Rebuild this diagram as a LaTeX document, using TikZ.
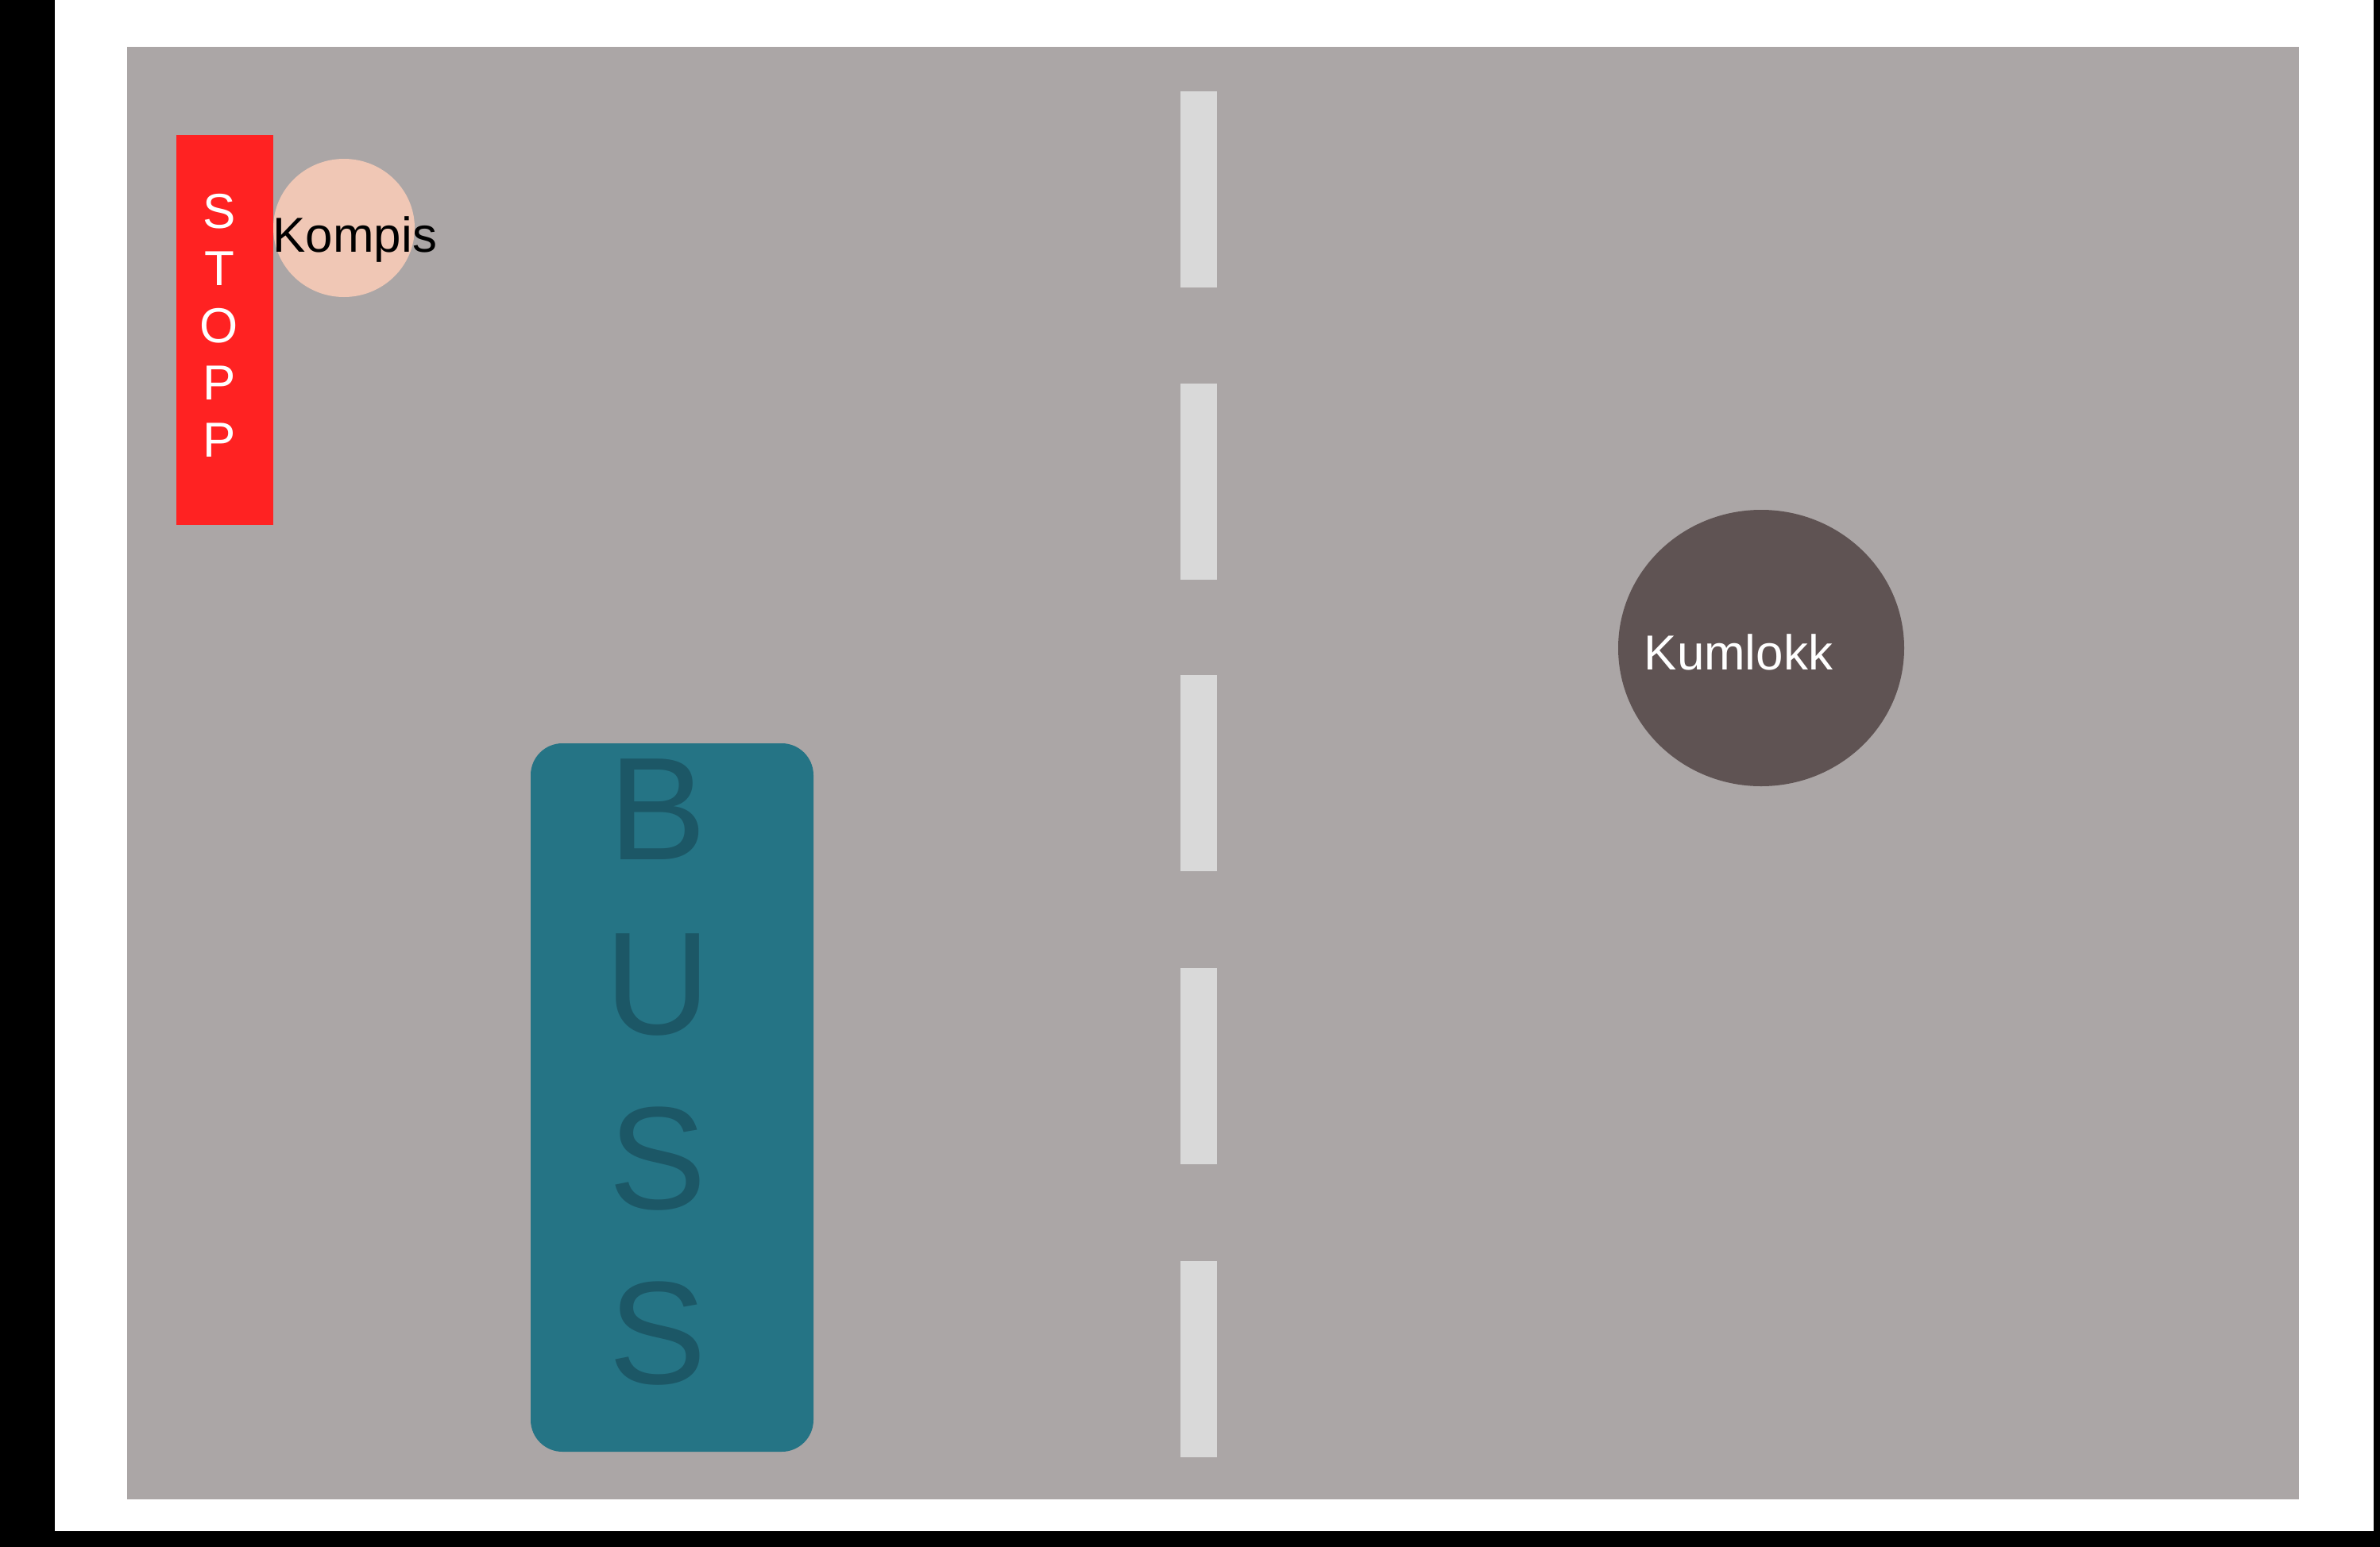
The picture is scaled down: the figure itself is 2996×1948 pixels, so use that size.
\documentclass[tikz,border=0pt]{standalone}
\usepackage{fontspec}
\setmainfont{Liberation Sans}
\definecolor{road}{HTML}{ABA6A6}
\definecolor{stopred}{HTML}{FF2222}
\definecolor{kompisskin}{HTML}{F0C7B5}
\definecolor{kumgrey}{HTML}{5F5353}
\definecolor{stripe}{HTML}{D9D9D9}
\definecolor{busblue}{HTML}{257485}
\definecolor{busletter}{HTML}{1C5766}
\begin{document}
\begin{tikzpicture}[x=0.01cm,y=-0.01cm,
	smalltext/.style={inner sep=0, font=\fontsize{17.6}{20.5}\selectfont}]

	% Rahmen
	\fill[black] (0,0) rectangle (2996,1948);
	\fill[white] (69,0) rectangle (2988,1928);

	% Strasse
	\fill[road] (160,59) rectangle (2894,1888);

	% Mittellinie
	\foreach \y in {115,483,850,1219,1588}
		\fill[stripe] (1486,\y) rectangle ++(46,247);

	% Stoppskilt
	\fill[stopred] (222,170) rectangle (344,661);
	\node[smalltext, text=white, align=center] (stopp) at (276,410) {S\\T\\O\\P\\P};

	% Kompis
	\fill[kompisskin] (433,287) ellipse [x radius=89, y radius=87];
	\node[smalltext, anchor=base west] (kompis) at (343,317) {Kompis};

	% Kumlokk
	\fill[kumgrey] (2217,816) ellipse [x radius=180, y radius=174];
	\node[smalltext, text=white, anchor=base west] (kumlokk) at (2069,843) {Kumlokk};

	% Buss
	\fill[busblue, rounded corners=0.4cm] (668,936) rectangle (1024,1828);
	\node[inner sep=0, text=busletter, align=center, font=\fontsize{52.4}{62.5}\selectfont]
		(buss) at (828,1350) {B\\U\\S\\S};

\end{tikzpicture}
\end{document}
